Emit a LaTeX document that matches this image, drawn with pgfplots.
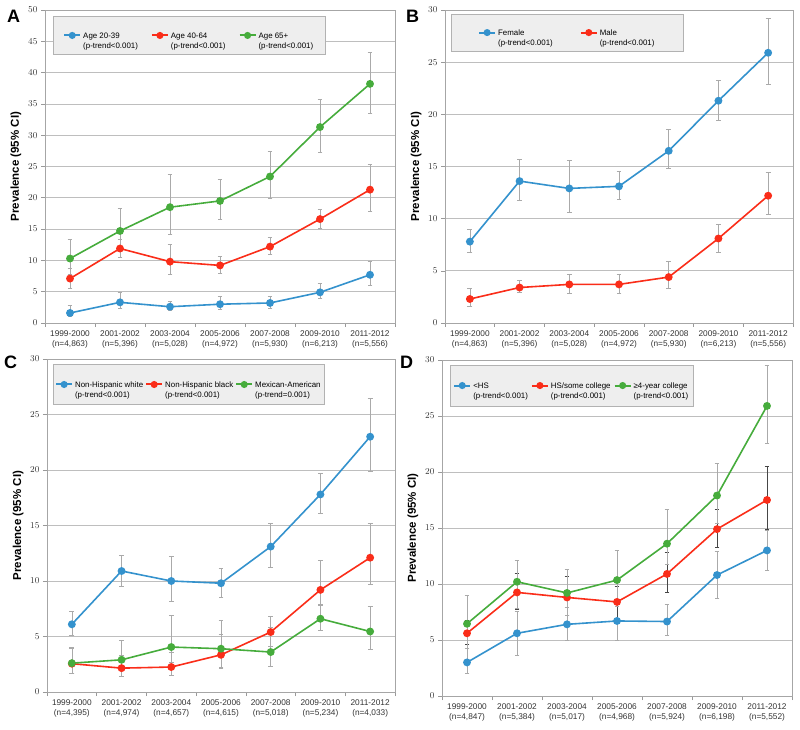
\documentclass[border=0pt]{standalone}
\usepackage{fontspec}
\setmainfont{Liberation Sans}
\usepackage{pgfplots}
\usepackage{pgfplotstable}
\pgfplotsset{compat=1.18}

\definecolor{cblue}{RGB}{52,146,205}
\definecolor{cred}{RGB}{250,45,25}
\definecolor{cgreen}{RGB}{70,172,60}
\definecolor{gridgray}{RGB}{190,190,190}
\definecolor{errgray}{RGB}{170,170,170}
\definecolor{errdark}{RGB}{70,70,70}
\definecolor{legfill}{RGB}{238,238,238}

% columns: category, estimate, lower CI, upper CI
\pgfplotstableread{
x y lo hi
0 1.6 1.1 2.8
1 3.3 2.3 4.9
2 2.6 2.1 3.4
3 3.0 2.2 4.2
4 3.2 2.3 4.3
5 4.9 3.9 6.4
6 7.7 6.0 9.9
}\Ablue
\pgfplotstableread{
x y lo hi
0 7.1 5.6 8.8
1 11.9 10.5 13.4
2 9.8 7.7 12.5
3 9.2 7.9 10.7
4 12.2 11.0 13.7
5 16.6 15.1 18.2
6 21.3 17.8 25.4
}\Ared
\pgfplotstableread{
x y lo hi
0 10.3 7.7 13.4
1 14.7 11.4 18.4
2 18.5 14.1 23.7
3 19.5 16.6 22.9
4 23.4 19.9 27.4
5 31.3 27.2 35.7
6 38.2 33.5 43.2
}\Agreen
\pgfplotstableread{
x y lo hi
0 7.8 6.8 9.0
1 13.6 11.8 15.7
2 12.9 10.6 15.6
3 13.1 11.9 14.5
4 16.5 14.8 18.6
5 21.3 19.4 23.3
6 25.9 22.9 29.2
}\Bfemale
\pgfplotstableread{
x y lo hi
0 2.3 1.6 3.3
1 3.4 2.9 4.1
2 3.7 2.8 4.7
3 3.7 2.8 4.7
4 4.4 3.3 5.9
5 8.1 6.8 9.5
6 12.2 10.4 14.4
}\Bmale
\pgfplotstableread{
x y lo hi
0 6.1 5.1 7.3
1 10.9 9.5 12.3
2 10.0 8.2 12.2
3 9.8 8.5 11.1
4 13.1 11.2 15.2
5 17.8 16.1 19.7
6 23.0 19.9 26.5
}\Cwhite
\pgfplotstableread{
x y lo hi
0 2.55 1.65 4.0
1 2.15 1.4 3.3
2 2.25 1.5 3.6
3 3.35 2.1 5.2
4 5.4 4.1 6.85
5 9.2 7.9 11.85
6 12.1 9.7 15.2
}\Cblack
\pgfplotstableread{
x y lo hi
0 2.6 1.7 3.9
1 2.9 2.0 4.65
2 4.05 2.7 6.9
3 3.9 2.25 6.45
4 3.6 2.3 5.85
5 6.6 5.6 7.8
6 5.45 3.85 7.7
}\Cmex
\pgfplotstableread{
x y lo hi
0 3.0 2.0 4.3
1 5.6 3.6 7.6
2 6.4 5.0 7.9
3 6.7 5.0 8.5
4 6.65 5.4 8.2
5 10.8 8.7 12.9
6 13.0 11.2 14.8
}\Dless
\pgfplotstableread{
x y lo hi
0 5.6 4.6 6.75
1 9.25 7.7 11.0
2 8.8 7.2 10.7
3 8.4 6.8 9.8
4 10.9 9.25 12.8
5 14.9 13.3 16.7
6 17.5 14.9 20.5
}\Dhs
\pgfplotstableread{
x y lo hi
0 6.45 4.3 9.0
1 10.2 7.8 12.1
2 9.2 7.2 11.3
3 10.35 8.0 13.0
4 13.6 11.8 16.7
5 17.9 15.4 20.8
6 25.9 22.6 29.5
}\Dcol

\newcommand{\ent}[2]{\begin{tabular}[t]{@{}l@{}}#1\\#2\end{tabular}}

\pgfplotsset{
  panel/.style={
    scale only axis,
    xmin=-0.5, xmax=6.5, ymin=0,
    xtick={0,...,6},
    minor xtick={-0.5,0.5,...,6.5},
    major x tick style={draw=none},
    minor x tick style={gray!80, line width=0.6pt},
    ytick style={gray!80, line width=0.6pt},
    major tick length=4pt, minor tick length=4pt,
    tick align=outside, tick pos=left,
    ymajorgrids,
    grid style={gridgray, line width=0.7pt},
    axis line style={gray!70, line width=0.7pt},
    tick label style={font=\fontsize{9}{10}\selectfont, text=black!80},
    xticklabel style={font=\fontsize{8.3}{10}\selectfont, align=center, text=black!80},
    ylabel={Prevalence (95\% CI)},
    ylabel style={font=\bfseries\fontsize{11.5}{12}\selectfont, at={(axis description cs:-0.083,0.5)}, anchor=center, rotate=0},
    legend columns=3,
    legend style={font=\fontsize{7.9}{10}\selectfont, fill=legfill, draw=gray!60,
      anchor=north west, cells={anchor=base west}},
    legend image code/.code={
      \draw[##1, line width=2pt] (0pt,2.7pt) -- (16pt,2.7pt);
      \fill[##1] (8pt,2.7pt) circle (2.7pt);},
  },
  ser/.style={#1, line width=1.6pt, mark=*, mark size=3.1pt, mark options={solid, fill=#1}},
  ebar/.style={
    error bars/y dir=both,
    error bars/y explicit,
    error bars/error bar style={#1, line width=0.6pt},
    error bars/error mark options={#1, rotate=90, mark size=2.4pt, line width=0.6pt},
  },
  ebar/.default=errgray,
  /pgfplots/table/ci/.style={x=x, y=y,
    y error plus expr=\thisrow{hi}-\thisrow{y},
    y error minus expr=\thisrow{y}-\thisrow{lo}},
}

\begin{document}
\begin{tikzpicture}[x=1pt,y=1pt]
\path (0,0) rectangle (800,-730);

% ---------------- A
\begin{axis}[panel, at={(45pt,-10pt)}, anchor=north west, width=350pt, height=313pt,
  ymax=50, ytick={0,5,...,50},
  xticklabels={{1999-2000\\(n=4,863)},{2001-2002\\(n=5,396)},{2003-2004\\(n=5,028)},{2005-2006\\(n=4,972)},{2007-2008\\(n=5,930)},{2009-2010\\(n=6,213)},{2011-2012\\(n=5,556)}},
  legend style={at={(axis description cs:0.023,0.981)}, inner xsep=10pt, inner ysep=13pt,
    /tikz/every even column/.append style={column sep=11pt}},
]
\addplot[ser=cblue, ebar] table[ci] {\Ablue};
\addlegendentry{\ent{Age 20-39}{(p-trend<0.001)}}
\addplot[ser=cred, ebar] table[ci] {\Ared};
\addlegendentry{\ent{Age 40-64}{(p-trend<0.001)}}
\addplot[ser=cgreen, ebar] table[ci] {\Agreen};
\addlegendentry{\ent{Age 65+}{(p-trend<0.001)}}
\end{axis}
\node[anchor=north west, inner sep=0, font=\bfseries\fontsize{18}{18}\selectfont] at (7,-10) {A};

% ---------------- B
\begin{axis}[panel, at={(445pt,-10pt)}, anchor=north west, width=348pt, height=313pt,
  ymax=30, ytick={0,5,...,30},
  xticklabels={{1999-2000\\(n=4,863)},{2001-2002\\(n=5,396)},{2003-2004\\(n=5,028)},{2005-2006\\(n=4,972)},{2007-2008\\(n=5,930)},{2009-2010\\(n=6,213)},{2011-2012\\(n=5,556)}},
  legend style={at={(axis description cs:0.017,0.987)}, inner xsep=27pt, inner ysep=12pt,
    /tikz/every even column/.append style={column sep=25pt}},
]
\addplot[ser=cblue, ebar] table[ci] {\Bfemale};
\addlegendentry{\ent{Female}{(p-trend<0.001)}}
\addplot[ser=cred, ebar] table[ci] {\Bmale};
\addlegendentry{\ent{Male}{(p-trend<0.001)}}
\end{axis}
\node[anchor=north west, inner sep=0, font=\bfseries\fontsize{18}{18}\selectfont] at (406,-10) {B};

% ---------------- C
\begin{axis}[panel, at={(47pt,-359pt)}, anchor=north west, width=348pt, height=333pt,
  ymax=30, ytick={0,5,...,30},
  xticklabels={{1999-2000\\(n=4,395)},{2001-2002\\(n=4,974)},{2003-2004\\(n=4,657)},{2005-2006\\(n=4,615)},{2007-2008\\(n=5,018)},{2009-2010\\(n=5,234)},{2011-2012\\(n=4,033)}},
  legend style={at={(axis description cs:0.017,0.985)}, inner xsep=2pt, inner ysep=14pt,
    /tikz/every even column/.append style={column sep=0pt}},
]
\addplot[ser=cblue, ebar] table[ci] {\Cwhite};
\addlegendentry{\ent{Non-Hispanic white}{(p-trend<0.001)}}
\addplot[ser=cred, ebar] table[ci] {\Cblack};
\addlegendentry{\ent{Non-Hispanic black}{(p-trend<0.001)}}
\addplot[ser=cgreen, ebar] table[ci] {\Cmex};
\addlegendentry{\ent{Mexican-American}{(p-trend=0.001)}}
\end{axis}
\node[anchor=north west, inner sep=0, font=\bfseries\fontsize{18}{18}\selectfont] at (4,-356) {C};

% ---------------- D
\begin{axis}[panel, at={(442pt,-360pt)}, anchor=north west, width=350pt, height=336pt,
  ymax=30, ytick={0,5,...,30},
  xticklabels={{1999-2000\\(n=4,847)},{2001-2002\\(n=5,384)},{2003-2004\\(n=5,017)},{2005-2006\\(n=4,968)},{2007-2008\\(n=5,924)},{2009-2010\\(n=6,198)},{2011-2012\\(n=5,552)}},
  legend style={at={(axis description cs:0.023,0.985)}, inner xsep=3pt, inner ysep=14pt,
    /tikz/every even column/.append style={column sep=1pt}},
]
\addplot[ser=cblue, ebar] table[ci] {\Dless};
\addlegendentry{\ent{<HS}{(p-trend<0.001)}}
\addplot[ser=cred, ebar=errdark] table[ci] {\Dhs};
\addlegendentry{\ent{HS/some college}{(p-trend<0.001)}}
\addplot[ser=cgreen, ebar] table[ci] {\Dcol};
\addlegendentry{\ent{≥4-year college}{(p-trend<0.001)}}
\end{axis}
\node[anchor=north west, inner sep=0, font=\bfseries\fontsize{18}{18}\selectfont] at (400,-356) {D};
\end{tikzpicture}
\end{document}
